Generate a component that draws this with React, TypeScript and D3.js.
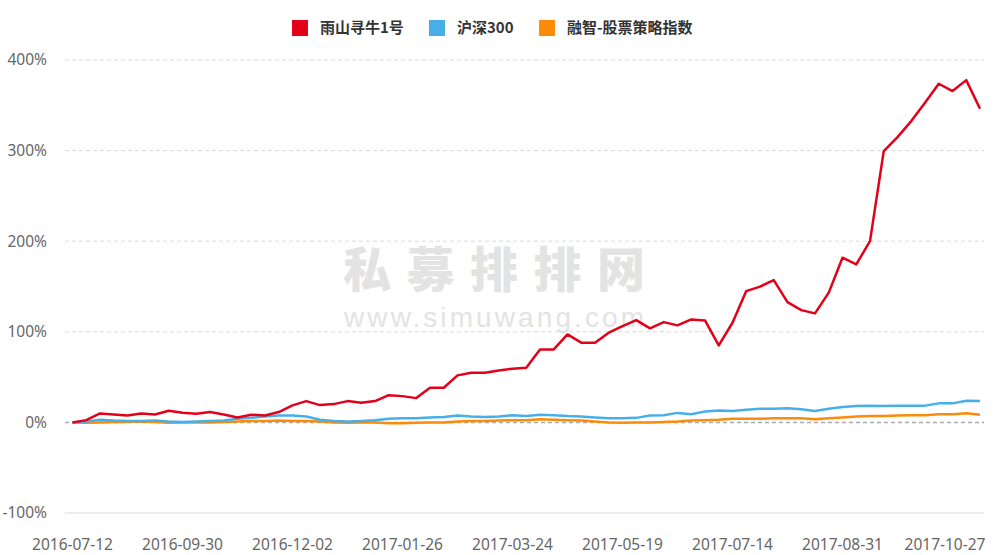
import React from "react";
import * as d3 from "d3";

// weekly cumulative returns (%)
const fund = [
  0, 2.5, 9.9, 8.8, 7.7, 9.9, 8.8, 12.9, 10.7, 9.6, 11.4, 8.8, 5.5, 8.5, 7.7,
  11.4, 18.8, 23.5, 19.1, 20.2, 23.5, 21.7, 23.5, 30.1, 29.0, 26.8, 38.3, 38.3,
  51.9, 54.9, 54.9, 57.4, 59.3, 60.4, 80.6, 80.6, 97.1, 88.0, 88.0, 99.0, 106.3,
  112.9, 103.8, 110.7, 107.1, 113.7, 112.6, 85.0, 110.0, 144.9, 149.8, 157.1,
  132.8, 123.9, 120.3, 143.2, 181.8, 174.4, 200.1, 299.4, 314.9, 332.6, 352.9,
  373.8, 365.7, 377.8, 346.2,
];
const hs300 = [
  0, 1, 3, 2, 1.5, 1.5, 2, 1, 0.5, 1, 1.5, 2, 4, 5, 6.5, 7.5, 7.5, 6.5, 3, 1.5,
  1, 1.5, 2.5, 4, 4.5, 4.5, 5.5, 6, 7.5, 6.5, 6, 6.5, 8, 7, 8.5, 8, 7, 6.5, 5.5,
  4.5, 4.5, 5, 7.5, 8, 10.5, 9, 12, 13, 12.5, 14, 15, 15, 15.5, 14.5, 12.5, 15,
  17, 18, 18.5, 18, 18.5, 18.5, 18.5, 21, 21, 24, 23.5,
];
const strategyIndex = [
  0, -0.5, 0, 0.5, 0.5, 1, 0.5, -0.5, 0, 0, 0, 0.5, 1, 1.5, 1.5, 2, 1.5, 1.5, 1,
  0, -0.5, 0, 0, -1, -1, -0.5, 0, 0, 1, 1.5, 1.5, 2, 2.5, 2.5, 3.5, 3, 2.5, 2, 1,
  0, -0.5, 0, 0, 0.5, 1, 2, 2.5, 3, 4, 4, 4, 4.5, 4.5, 4.5, 3.5, 4.5, 5.5, 6.5,
  7, 7, 7.5, 8, 8, 9, 9, 10, 8.5,
];
const seriesNames = ["雨山寻牛1号", "沪深300", "融智-股票策略指数"];
const colors = ["#e3001a", "#47afe8", "#fa8c0a"];
const dateLabels = [
  "2016-07-12",
  "2016-09-30",
  "2016-12-02",
  "2017-01-26",
  "2017-03-24",
  "2017-05-19",
  "2017-07-14",
  "2017-08-31",
  "2017-10-27",
];
const labelStep = 8;
const yTicks = [-100, 0, 100, 200, 300, 400];

const W = 993;
const H = 555;
const font = "'Noto Sans', 'Noto Sans CJK SC', sans-serif";

export default function App() {
  const x = d3.scaleLinear().domain([0, fund.length - 1]).range([72.5, 980]);
  const y = d3.scaleLinear().domain([-100, 400]).range([513, 60]);
  const line = d3
    .line<number>()
    .x((_, i) => x(i))
    .y((d) => y(d));

  const series = [fund, hs300, strategyIndex];
  const legendX = [292, 429, 539];

  return (
    <svg
      width={W}
      height={H}
      style={{ position: "absolute", left: 0, top: 0, background: "#fff" }}
    >
      {/* watermark */}
      <text
        x={343}
        y={287}
        textLength={302}
        lengthAdjust="spacing"
        fontFamily="'Noto Sans CJK SC', sans-serif"
        fontWeight={900}
        fontSize={48}
        fill="#e3e3e3"
      >
        私募排排网
      </text>
      <text
        x={344}
        y={327}
        textLength={300}
        lengthAdjust="spacing"
        fontFamily="'Liberation Sans', Arial, sans-serif"
        fontSize={28}
        fill="#e3e3e3"
      >
        www.simuwang.com
      </text>

      {/* grid */}
      {yTicks.map((t) => (
        <g key={t}>
          <line
            x1={65}
            x2={984}
            y1={y(t)}
            y2={y(t)}
            stroke={t === 0 ? "#aaa" : t === -100 ? "#ddd" : "#d9d9d9"}
            strokeWidth={t === 0 ? 1.5 : 1}
            strokeDasharray={t === -100 ? undefined : "4,3"}
          />
          <text
            x={47}
            y={y(t)}
            dy="0.35em"
            textAnchor="end"
            fontFamily={font}
            fontSize={15.5}
            fill="#666"
          >
            {t}%
          </text>
        </g>
      ))}

      {dateLabels.map((d, k) => (
        <text
          key={d}
          x={Math.min(x(k * labelStep), 945)}
          y={550}
          textAnchor="middle"
          fontFamily={font}
          fontSize={15.5}
          fill="#666"
        >
          {d}
        </text>
      ))}

      {/* lines, index drawn first so the fund sits on top */}
      {[2, 1, 0].map((s) => (
        <path
          key={s}
          d={line(series[s]) || ""}
          fill="none"
          stroke={colors[s]}
          strokeWidth={2.5}
          strokeLinejoin="round"
        />
      ))}

      {/* legend */}
      {seriesNames.map((n, i) => (
        <g key={n}>
          <rect x={legendX[i]} y={20} width={16} height={16} fill={colors[i]} />
          <text
            x={legendX[i] + 28}
            y={28}
            dy="0.35em"
            fontFamily="'Noto Sans CJK SC', sans-serif"
            fontWeight={700}
            fontSize={15}
            fill="#333"
          >
            {n}
          </text>
        </g>
      ))}
    </svg>
  );
}
